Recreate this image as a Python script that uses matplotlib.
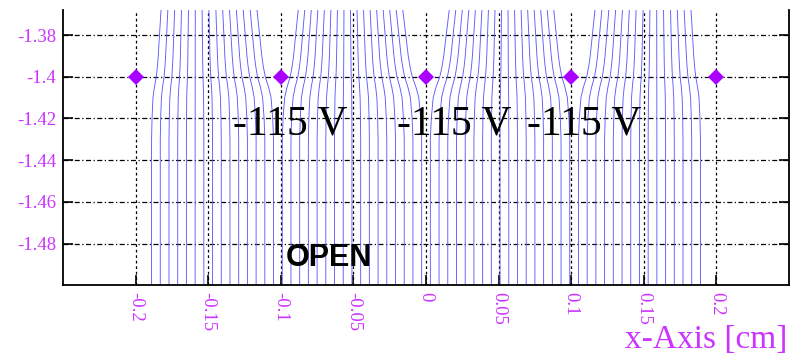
import matplotlib
matplotlib.use("Agg")
import matplotlib.pyplot as plt

# wire positions (cm)
wire_x = [-0.2, -0.1, 0.0, 0.1, 0.2]
wire_y = -1.4

# drift lines: x where each line leaves the bottom of the view ...
line_x_bottom = [
    -0.189, -0.183, -0.177, -0.171, -0.165, -0.159, -0.153, -0.147,
    -0.141, -0.135, -0.129, -0.123, -0.117, -0.111, -0.105,
    -0.099, -0.093, -0.087, -0.081, -0.075, -0.069, -0.063, -0.057,
    -0.051, -0.045, -0.039, -0.033, -0.027, -0.021, -0.015, -0.009, -0.003,
    0.003, 0.009, 0.015, 0.021, 0.027, 0.033, 0.039, 0.045,
    0.051, 0.057, 0.063, 0.069, 0.075, 0.081, 0.087, 0.093, 0.099,
    0.105, 0.111, 0.117, 0.123, 0.129, 0.135, 0.141,
    0.147, 0.153, 0.159, 0.165, 0.171, 0.177, 0.183, 0.189,
]
# ... and x where it reaches the top, squeezed between the wires
line_x_top = [
    -0.1825, -0.1778, -0.1731, -0.1684, -0.1636, -0.1589, -0.1542, -0.1495,
    -0.1447, -0.1400, -0.1353, -0.1306, -0.1259, -0.1211, -0.1164,
    -0.0880, -0.0835, -0.0790, -0.0745, -0.0700, -0.0655, -0.0610, -0.0565,
    -0.0520, -0.0475, -0.0430, -0.0385, -0.0340, -0.0295, -0.0250, -0.0205, -0.0160,
    0.0160, 0.0205, 0.0250, 0.0295, 0.0340, 0.0385, 0.0430, 0.0475,
    0.0520, 0.0565, 0.0610, 0.0655, 0.0700, 0.0745, 0.0790, 0.0835, 0.0880,
    0.1164, 0.1211, 0.1259, 0.1306, 0.1353, 0.1400, 0.1447,
    0.1495, 0.1542, 0.1589, 0.1636, 0.1684, 0.1731, 0.1778, 0.1825,
]
# how far along the bottom->top shift a line has got at each height
bend_y = [-1.50, -1.43, -1.42, -1.41, -1.405, -1.40, -1.395, -1.39, -1.38, -1.368]
bend_frac = [0.0, 0.0, 0.05, 0.15, 0.3, 0.5, 0.62, 0.71, 0.84, 1.0]

x_ticks = [-0.2, -0.15, -0.1, -0.05, 0.0, 0.05, 0.1, 0.15, 0.2]
x_tick_labels = ["-0.2", "-0.15", "-0.1", "-0.05", "0", "0.05", "0.1", "0.15", "0.2"]
y_ticks = [-1.48, -1.46, -1.44, -1.42, -1.40, -1.38]
y_tick_labels = ["-1.48", "-1.46", "-1.44", "-1.42", "-1.4", "-1.38"]

voltage_labels = ["-115 V", "-115 V", "-115 V"]
gate_state = "OPEN"

AXIS_COLOR = "#cc33ff"
WIRE_COLOR = "#aa00ff"
LINE_COLOR = "#5c5cff"
SERIF = "Liberation Serif"

fig = plt.figure(figsize=(7.92, 3.54), dpi=100)
ax = fig.add_axes([63 / 792, 1 - 285.3 / 354, 726 / 792, 275.3 / 354])
ax.set_xlim(-0.25, 0.25)
ax.set_ylim(-1.5, -1.368)

for xb, xt in zip(line_x_bottom, line_x_top):
    xs = [xb + f * (xt - xb) for f in bend_frac]
    ax.plot(xs, bend_y, color=LINE_COLOR, lw=0.65, zorder=2)

ax.plot(wire_x, [wire_y] * len(wire_x), "D", color=WIRE_COLOR, ms=8,
        mew=0, zorder=5)

label_x = [-0.0937, 0.0193, 0.1088]
for lx, txt in zip(label_x, voltage_labels):
    ax.text(lx, -1.4275, txt, ha="center", va="baseline", fontsize=30,
            family=SERIF, color="black", zorder=6)
ax.text(-0.0667, -1.4867, gate_state, ha="center", va="center", fontsize=22,
        family="Liberation Sans", weight="bold", color="black", zorder=6)

# grid: dotted verticals, dash-dot horizontals
for x in x_ticks:
    ax.axvline(x, color="black", lw=0.9, ls=(0, (2.2, 2.2)), zorder=1)
for y in y_ticks:
    ax.axhline(y, color="black", lw=0.9, ls=(0, (4, 2, 1, 2)), zorder=1)

ax.set_xticks(x_ticks)
ax.set_xticklabels(x_tick_labels, rotation=-90, family=SERIF,
                   fontsize=13.5, color=AXIS_COLOR)
ax.set_yticks(y_ticks)
ax.set_yticklabels(y_tick_labels, family=SERIF, fontsize=13.5,
                   color=AXIS_COLOR)
ax.tick_params(axis="x", direction="in", length=7, width=1.2, pad=5)
ax.tick_params(axis="y", direction="in", length=7, width=1.2, pad=5,
               right=True)

ax.spines["top"].set_visible(False)
for side in ["left", "bottom", "right"]:
    ax.spines[side].set_linewidth(1.3)

fig.text(787 / 792, 0.018, "x-Axis [cm]", ha="right", va="baseline",
         fontsize=24, family=SERIF, color=AXIS_COLOR)

fig.savefig("out.png", dpi=100)
plt.close(fig)
